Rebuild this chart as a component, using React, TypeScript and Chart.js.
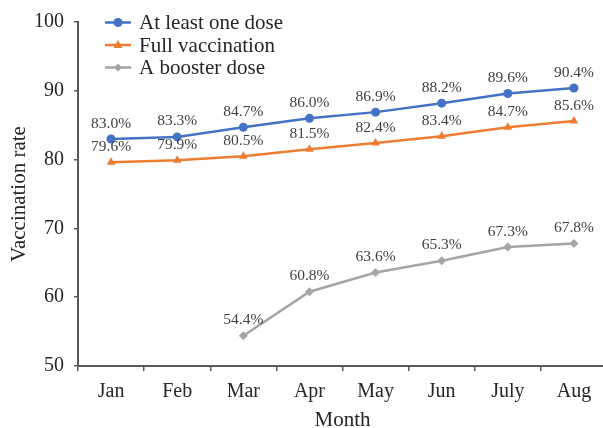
import React, { useEffect, useRef } from "react";
import { Chart, registerables } from "chart.js";

Chart.register(...registerables);

const months = ["Jan", "Feb", "Mar", "Apr", "May", "Jun", "July", "Aug"];
const atLeastOne = [83.0, 83.3, 84.7, 86.0, 86.9, 88.2, 89.6, 90.4];
const fullVacc = [79.6, 79.9, 80.5, 81.5, 82.4, 83.4, 84.7, 85.6];
const booster = [null, null, 54.4, 60.8, 63.6, 65.3, 67.3, 67.8];
const seriesNames = ["At least one dose", "Full vaccination", "A booster dose"];
const seriesColors = ["#4472C4", "#ED7D31", "#A5A5A5"];
const seriesMarkers = ["circle", "triangle", "rectRot"];

const FONT = '"Liberation Serif", "Times New Roman", serif';

const labelPlugin = {
  id: "pointLabels",
  afterDatasetsDraw(chart: any) {
    const ctx = chart.ctx;
    ctx.save();
    ctx.font = `15.5px ${FONT}`;
    ctx.fillStyle = "#404040";
    ctx.textAlign = "center";
    ctx.textBaseline = "middle";
    chart.data.datasets.forEach((ds: any, i: number) => {
      const meta = chart.getDatasetMeta(i);
      meta.data.forEach((pt: any, j: number) => {
        const v = ds.data[j];
        if (v === null || v === undefined) return;
        ctx.fillText(v.toFixed(1) + "%", pt.x, pt.y - 15.5);
      });
    });
    ctx.restore();
  },
};

const legendPlugin = {
  id: "customLegend",
  afterDraw(chart: any) {
    const ctx = chart.ctx;
    ctx.save();
    const x0 = 105;
    const x1 = 131;
    const ys = [22.5, 45, 67.5];
    seriesNames.forEach((name, i) => {
      const y = ys[i];
      ctx.strokeStyle = seriesColors[i];
      ctx.lineWidth = 2.5;
      ctx.beginPath();
      ctx.moveTo(x0, y);
      ctx.lineTo(x1, y);
      ctx.stroke();
      ctx.fillStyle = seriesColors[i];
      const cx = (x0 + x1) / 2;
      const r = 4;
      ctx.beginPath();
      if (seriesMarkers[i] === "circle") {
        ctx.arc(cx, y, r + 0.5, 0, Math.PI * 2);
      } else if (seriesMarkers[i] === "triangle") {
        ctx.moveTo(cx, y - r - 1);
        ctx.lineTo(cx + r + 0.5, y + r - 1);
        ctx.lineTo(cx - r - 0.5, y + r - 1);
        ctx.closePath();
      } else {
        ctx.moveTo(cx, y - r);
        ctx.lineTo(cx + r, y);
        ctx.lineTo(cx, y + r);
        ctx.lineTo(cx - r, y);
        ctx.closePath();
      }
      ctx.fill();
      ctx.fillStyle = "#262626";
      ctx.font = `21px ${FONT}`;
      ctx.textAlign = "left";
      ctx.textBaseline = "middle";
      ctx.fillText(name, 139, y + 1);
    });
    ctx.restore();
  },
};

export default function App() {
  const ref = useRef<HTMLCanvasElement>(null);
  useEffect(() => {
    document.body.style.margin = "0";
    const datas = [atLeastOne, fullVacc, booster];
    const chart = new Chart(ref.current!, {
      type: "line",
      data: {
        labels: months,
        datasets: datas.map((d, i) => ({
          label: seriesNames[i],
          data: d as any,
          borderColor: seriesColors[i],
          backgroundColor: seriesColors[i],
          borderWidth: 2.5,
          pointStyle: seriesMarkers[i] as any,
          pointRadius: i === 1 ? 5 : 4.5,
          pointBorderWidth: 0,
          spanGaps: false,
          tension: 0,
        })),
      },
      options: {
        responsive: false,
        animation: false,
        layout: { padding: { top: 22, right: 0, left: 0, bottom: 0 } },
        plugins: {
          legend: { display: false },
          tooltip: { enabled: false },
        },
        scales: {
          x: {
            offset: true,
            grid: {
              offset: true,
              drawOnChartArea: false,
              drawTicks: true,
              tickLength: 5,
              color: "#595959",
              lineWidth: 1.5,
            },
            border: { color: "#595959", width: 2 },
            ticks: {
              color: "#262626",
              font: { family: FONT, size: 20 },
              padding: 9,
              maxRotation: 0,
            },
            title: {
              display: true,
              text: "Month",
              color: "#262626",
              font: { family: FONT, size: 21, lineHeight: 1 },
              padding: { top: 0, bottom: -3 },
            },
            afterFit(scale: any) {
              scale.height = 62;
            },
          },
          y: {
            min: 50,
            max: 100,
            grid: {
              drawOnChartArea: false,
              drawTicks: true,
              tickLength: 4,
              color: "#595959",
              lineWidth: 1.5,
            },
            border: { color: "#595959", width: 2 },
            ticks: {
              stepSize: 10,
              color: "#262626",
              font: { family: FONT, size: 20 },
              padding: 10,
            },
            title: {
              display: true,
              text: "Vaccination rate",
              color: "#262626",
              font: { family: FONT, size: 21, lineHeight: 1 },
              padding: { top: 9, bottom: 0 },
            },
            afterFit(scale: any) {
              scale.width = 78;
            },
          },
        },
      },
      plugins: [labelPlugin, legendPlugin],
    });
    return () => chart.destroy();
  }, []);
  return (
    <div style={{ width: 603, height: 428, overflow: "hidden" }}>
      <canvas ref={ref} width={612} height={428} style={{ display: "block" }} />
    </div>
  );
}
